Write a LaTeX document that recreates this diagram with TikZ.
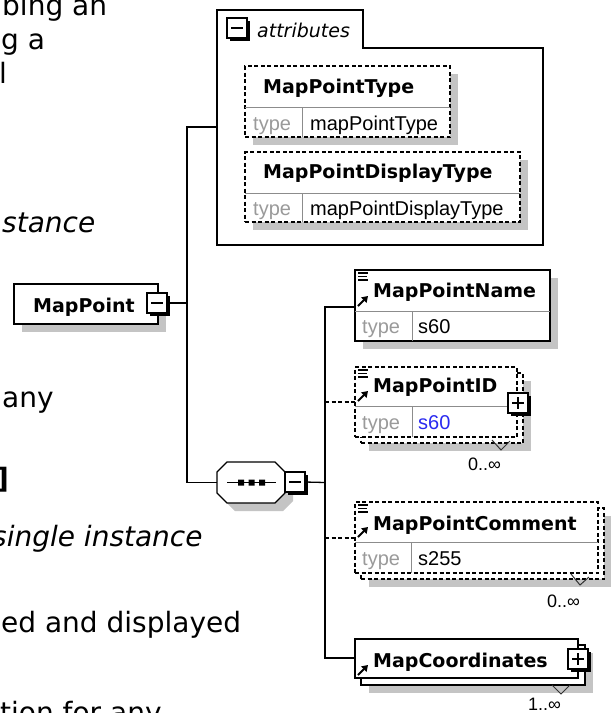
\documentclass[tikz,border=0pt]{standalone}
\usepackage{fontspec}
\setmainfont{DejaVu Sans}
\newfontfamily\lib{Liberation Sans}
\usetikzlibrary{arrows.meta}
\definecolor{shd}{HTML}{C4C4C4}
\definecolor{typegrey}{HTML}{9A9A9A}
\definecolor{valblue}{HTML}{2A2AF0}
\definecolor{divgrey}{HTML}{8C8C8C}
\newcommand\bgfont{\fontsize{28}{33}\selectfont}
\newcommand\ttlfont{\fontsize{19}{22}\selectfont\bfseries}
\newcommand\valfont{\lib\fontsize{20}{23}\selectfont}
\newcommand\occfont{\lib\fontsize{18}{21}\selectfont}
% plus/minus box: name, x, y, plus(1)/minus(0)
\newcommand\pmbox[4]{%
  \fill[black] (#2+2.5,#3+2.5) rectangle ++(20.5,20.5);
  \node[box, line width=1.5pt, minimum width=20pt, minimum height=20pt] (#1) at (#2,#3) {};
  \draw[line width=1.4pt] ([xshift=4pt]#1.west) -- ([xshift=-4pt]#1.east);
  \ifnum#4=1 \draw[line width=1.4pt] ([yshift=-4pt]#1.north) -- ([yshift=4pt]#1.south);\fi
}
% simple-type icon (three lines), box top-left x,y
\newcommand\lineicon[2]{%
  \draw[line width=1.1pt] (#1+3,#2+3) -- ++(10,0) (#1+3,#2+6.5) -- ++(9,0) (#1+3,#2+10) -- ++(10,0);
}
% reference arrow icon, start point x,y
\newcommand\refarrow[2]{%
  \draw[line width=2pt, -{Triangle[length=6pt,width=7.5pt]}] (#1,#2) -- ++(10,-10);
}
\begin{document}
\begin{tikzpicture}[x=1pt,y=-1pt,
  box/.style={draw=black, line width=1.4pt, fill=white, inner sep=0pt, outer sep=0pt, anchor=north west},
  dbox/.style={box, dash pattern=on 4pt off 2.5pt},
  shadow/.style={fill=shd, draw=none},
  ttl/.style={font=\ttlfont, anchor=base west, inner sep=0pt},
  tname/.style={font=\valfont, text=typegrey, anchor=base west, inner sep=0pt},
  tval/.style={font=\valfont, anchor=base west, inner sep=0pt},
  occ/.style={font=\occfont, anchor=base west, inner sep=0pt},
  bg/.style={font=\bgfont, anchor=base west, inner sep=0pt},
  divider/.style={draw=divgrey, line width=0.9pt},
  conn/.style={draw=black, line width=1.3pt},
  dconn/.style={conn, dash pattern=on 4pt off 2.5pt},
  vmark/.style={draw=black!80, line width=1pt},
]
\useasboundingbox (0,0) rectangle (611,713);
\clip (0,0) rectangle (611,713);
\fill[white] (0,0) rectangle (611,713);

% ---------- background document text (cut by the picture edge) ----------
\node[bg] (t1) at (2,15) {bing an};
\node[bg] (t2) at (1,49) {g a};
\node[bg] (t3) at (-1,83) {l};
\node[bg, font=\bgfont\itshape] (t4) at (2,232) {stance};
\node[bg] (t5) at (2,407) {any};
\node[bg, font=\bgfont\bfseries] (t6) at (-4,488) {]};
\node[bg, font=\bgfont\itshape] (t7) at (-8,546) {single instance};
\node[bg] (t8) at (1,632) {ed and displayed};
\node[bg] (t9) at (0,722) {tion for any};

% ---------- attributes container ----------
\draw[line width=1.4pt, fill=white] (217,10) -- (363,10) -- (363,48) -- (543,48) -- (543,245) -- (217,245) -- cycle;
\pmbox{attrpm}{227}{18}{0}
\node[font=\fontsize{19}{22}\selectfont\itshape, anchor=base west, inner sep=0pt] (attrlbl) at (257,37) {attributes};
\coordinate (attrL) at (217,127);

% MapPointType
\fill[shadow] (253,74) rectangle (458,145);
\node[dbox, minimum width=205pt, minimum height=71pt] (mpt) at (245,66) {};
\draw[divider] (245,107) -- (450,107) (302,107) -- (302,137);
\node[ttl] (mptT) at (263,93) {MapPointType};
\node[tname] (mptK) at (253,130) {type};
\node[tval] (mptV) at (310,130) {mapPointType};

% MapPointDisplayType
\fill[shadow] (253,160) rectangle (528,230);
\node[dbox, minimum width=275pt, minimum height=70pt] (mpdt) at (245,152) {};
\draw[divider] (245,193) -- (520,193) (302,193) -- (302,222);
\node[ttl] (mpdtT) at (263,178) {MapPointDisplayType};
\node[tname] (mpdtK) at (253,215) {type};
\node[tval] (mpdtV) at (310,215) {mapPointDisplayType};

% ---------- MapPoint (root) ----------
\fill[shadow] (22,292) rectangle (166,332);
\node[box, minimum width=144pt, minimum height=40pt] (mp) at (14,284) {};
\node[ttl] (mpT) at (33,312) {MapPoint};
\pmbox{mppm}{147}{293}{0}

% ---------- sequence compositor ----------
\node[inner sep=0pt, outer sep=0pt, minimum width=68pt, minimum height=41pt, anchor=north west] (seq) at (217,462) {};
\begin{scope}[shift={(8,8)}]
\fill[shd] (227,462) -- (275,462) -- (285,472) -- (285,493) -- (275,503) -- (227,503) -- (217,493) -- (217,472) -- cycle;
\end{scope}
\draw[line width=1.4pt, fill=white] (227,462) -- (275,462) -- (285,472) -- (285,493) -- (275,503) -- (227,503) -- (217,493) -- (217,472) -- cycle;
\draw[line width=1.1pt] (227,482.5) -- (276,482.5);
\fill (238,479.5) rectangle ++(6,6) (248.5,479.5) rectangle ++(6,6) (259,479.5) rectangle ++(6,6);
\pmbox{seqpm}{285}{472}{0}

% ---------- MapPointName ----------
\fill[shadow] (363,278) rectangle (558,349);
\node[box, minimum width=195pt, minimum height=71pt] (mpn) at (355,270) {};
\draw[divider] (355,311) -- (550,311) (412,311) -- (412,341);
\lineicon{355}{270}
\refarrow{358}{306}
\node[ttl] (mpnT) at (373,297) {MapPointName};
\node[tname] (mpnK) at (362,333) {type};
\node[tval] (mpnV) at (418,333) {s60};
\coordinate (mpnIn) at (355,307);

% ---------- MapPointID ----------
\fill[shadow] (369,381) rectangle (531,451);
\node[dbox, minimum width=162pt, minimum height=70pt] (mpidB) at (361,373) {};
\node[dbox, minimum width=162pt, minimum height=70pt] (mpid) at (355,367) {};
\draw[divider] (355,406) -- (517,406) (412,406) -- (412,437);
\lineicon{355}{367}
\refarrow{358}{401}
\node[ttl] (mpidT) at (373,392) {MapPointID};
\node[tname] (mpidK) at (362,429) {type};
\node[tval, text=valblue] (mpidV) at (418,429) {s60};
\pmbox{mpidpm}{508}{393}{1}
\draw[vmark] (492,440) -- (501,450) -- (510,441);
\node[occ] (mpidO) at (468,470) {0..∞};
\coordinate (mpidIn) at (355,402);

% ---------- MapPointComment ----------
\fill[shadow] (369,516) rectangle (612,587);
\node[dbox, minimum width=243pt, minimum height=71pt] (mpcB) at (361,508) {};
\node[dbox, minimum width=243pt, minimum height=71pt] (mpc) at (355,502) {};
\draw[divider] (355,542) -- (598,542) (411,542) -- (411,573);
\lineicon{355}{502}
\refarrow{358}{537}
\node[ttl] (mpcT) at (373,530) {MapPointComment};
\node[tname] (mpcK) at (362,565) {type};
\node[tval] (mpcV) at (418,565) {s255};
\draw[vmark] (571,574) -- (580,585) -- (589,577);
\node[occ] (mpcO) at (547,607) {0..∞};
\coordinate (mpcIn) at (355,538);

% ---------- MapCoordinates ----------
\fill[shadow] (369,653) rectangle (593,693);
\node[box, minimum width=224pt, minimum height=40pt] (mcB) at (361,645) {};
\node[box, minimum width=223pt, minimum height=39pt] (mc) at (355,639) {};
\refarrow{358}{675}
\node[ttl] (mcT) at (373,667) {MapCoordinates};
\pmbox{mcpm}{568}{649}{1}
\draw[vmark] (552,685) -- (561,694) -- (570,685);
\node[occ] (mcO) at (528,710) {1..∞};
\coordinate (mcIn) at (355,658);

% ---------- connectors ----------
\coordinate (trunk) at (187,127);
\coordinate (ctr) at (325,482.5);
\draw[conn] (attrL) -- (trunk) |- (seq.west);
\draw[conn] (mppm.east) -- (mppm.east -| trunk);
\draw[conn] (seqpm.east) -- (ctr);
\draw[conn] (mpnIn) -| (ctr) |- (mcIn);
\draw[dconn] (ctr |- mpidIn) -- (mpidIn);
\draw[dconn] (ctr |- mpcIn) -- (mpcIn);
\end{tikzpicture}
\end{document}
